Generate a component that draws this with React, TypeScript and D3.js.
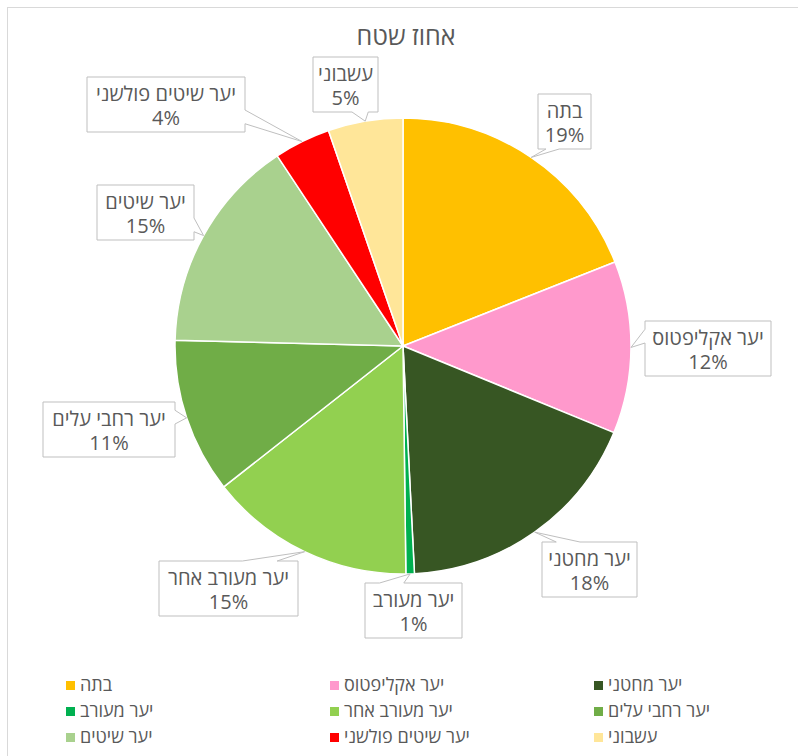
import React from "react";
import * as d3 from "d3";

const categories = [
  "בתה",
  "יער אקליפטוס",
  "יער מחטני",
  "יער מעורב",
  "יער מעורב אחר",
  "יער רחבי עלים",
  "יער שיטים",
  "יער שיטים פולשני",
  "עשבוני",
];
const values = [19.0, 12.2, 18.0, 0.6, 14.6, 11.0, 15.3, 4.0, 5.3];
const colors = [
  "#FFC000",
  "#FF99CC",
  "#375623",
  "#00B050",
  "#92D050",
  "#70AD47",
  "#A9D18E",
  "#FF0000",
  "#FFE699",
];
const title = "אחוז שטח";

// label box layout (positions only)
const labelBoxes = [
  { x: 538, y: 94, w: 53, side: "bottom" },
  { x: 645, y: 321, w: 126, side: "left" },
  { x: 542, y: 542, w: 95, side: "top" },
  { x: 365, y: 583, w: 97, side: "top" },
  { x: 159, y: 561, w: 139, side: "top" },
  { x: 43, y: 402, w: 132, side: "right" },
  { x: 97, y: 185, w: 97, side: "right" },
  { x: 87, y: 77, w: 158, side: "right" },
  { x: 313, y: 57, w: 65, side: "bottom" },
];

const W = 798;
const H = 756;
const cx = 403;
const cy = 346;
const R = 228;
const FONT = "'Open Sans', 'DejaVu Sans', sans-serif";
const TEXT = "#595959";

function calloutPath(b: any, h: number, tip: [number, number]) {
  const x0 = b.x, y0 = b.y, x1 = b.x + b.w, y1 = b.y + h;
  const [tx, ty] = tip;
  let a = 0, c = 0;
  if (b.side === "top" || b.side === "bottom") {
    if (tx < x0 + b.w / 2) { a = x0 + 0.15 * b.w; c = x0 + 0.4 * b.w; }
    else { a = x0 + 0.6 * b.w; c = x0 + 0.85 * b.w; }
  } else {
    if (ty < y0 + h / 2) { a = y0 + 0.15 * h; c = y0 + 0.4 * h; }
    else { a = y0 + 0.6 * h; c = y0 + 0.85 * h; }
  }
  const pts: [number, number][] = [];
  pts.push([x0, y0]);
  if (b.side === "top") pts.push([a, y0], [tx, ty], [c, y0]);
  pts.push([x1, y0]);
  if (b.side === "right") pts.push([x1, a], [tx, ty], [x1, c]);
  pts.push([x1, y1]);
  if (b.side === "bottom") pts.push([c, y1], [tx, ty], [a, y1]);
  pts.push([x0, y1]);
  if (b.side === "left") pts.push([x0, c], [tx, ty], [x0, a]);
  return "M" + pts.map((p) => p[0] + "," + p[1]).join("L") + "Z";
}

export default function App() {
  const data = categories.map((c, i) => ({ name: c, value: values[i], color: colors[i] }));
  const total = d3.sum(values);
  const pie = d3.pie<any>().value((d) => d.value).sort(null);
  const arcs = pie(data);
  const arc = d3.arc<any>().innerRadius(0).outerRadius(R);
  const edge = d3.arc<any>().innerRadius(R).outerRadius(R);
  const boxH = 55;

  const legendX = [70, 334, 598];
  const legendY = [685, 711, 737];

  return (
    <svg
      width={W}
      height={H}
      style={{ position: "absolute", left: 0, top: 0, background: "#fff" }}
      fontFamily={FONT}
    >
      <rect x={0} y={0} width={W} height={H} fill="#fff" />
      <rect x={7.5} y={7.5} width={820} height={780} fill="none" stroke="#d9d9d9" strokeWidth={1} />
      <text x={406} y={45} textAnchor="middle" fontSize={25} fill={TEXT}>
        {title}
      </text>
      <g transform={`translate(${cx},${cy})`}>
        {arcs.map((a, i) => (
          <path key={i} d={arc(a) as string} fill={a.data.color} stroke="#fff" strokeWidth={1.5} />
        ))}
      </g>
      {arcs.map((a, i) => {
        const c = edge.centroid(a);
        const tip: [number, number] = [cx + c[0], cy + c[1]];
        const b = labelBoxes[i];
        const pct = Math.round((a.data.value / total) * 100) + "%";
        const mx = b.x + b.w / 2;
        return (
          <g key={"l" + i}>
            <path d={calloutPath(b, boxH, tip)} fill="#fff" stroke="#bfbfbf" strokeWidth={1} />
            <text x={mx} y={b.y + 24} textAnchor="middle" fontSize={20} fill={TEXT}>
              {a.data.name}
            </text>
            <text x={mx} y={b.y + 48} textAnchor="middle" fontSize={20} fill={TEXT}>
              {pct}
            </text>
          </g>
        );
      })}
      {data.map((d, i) => {
        const col = i % 3;
        const row = Math.floor(i / 3);
        const x = legendX[col];
        const y = legendY[row];
        return (
          <g key={"lg" + i}>
            <rect x={x - 4} y={y - 4} width={9} height={9} fill={d.color} />
            <text x={x + 10} y={y + 6} fontSize={18} fill={TEXT}>
              {d.name}
            </text>
          </g>
        );
      })}
    </svg>
  );
}
